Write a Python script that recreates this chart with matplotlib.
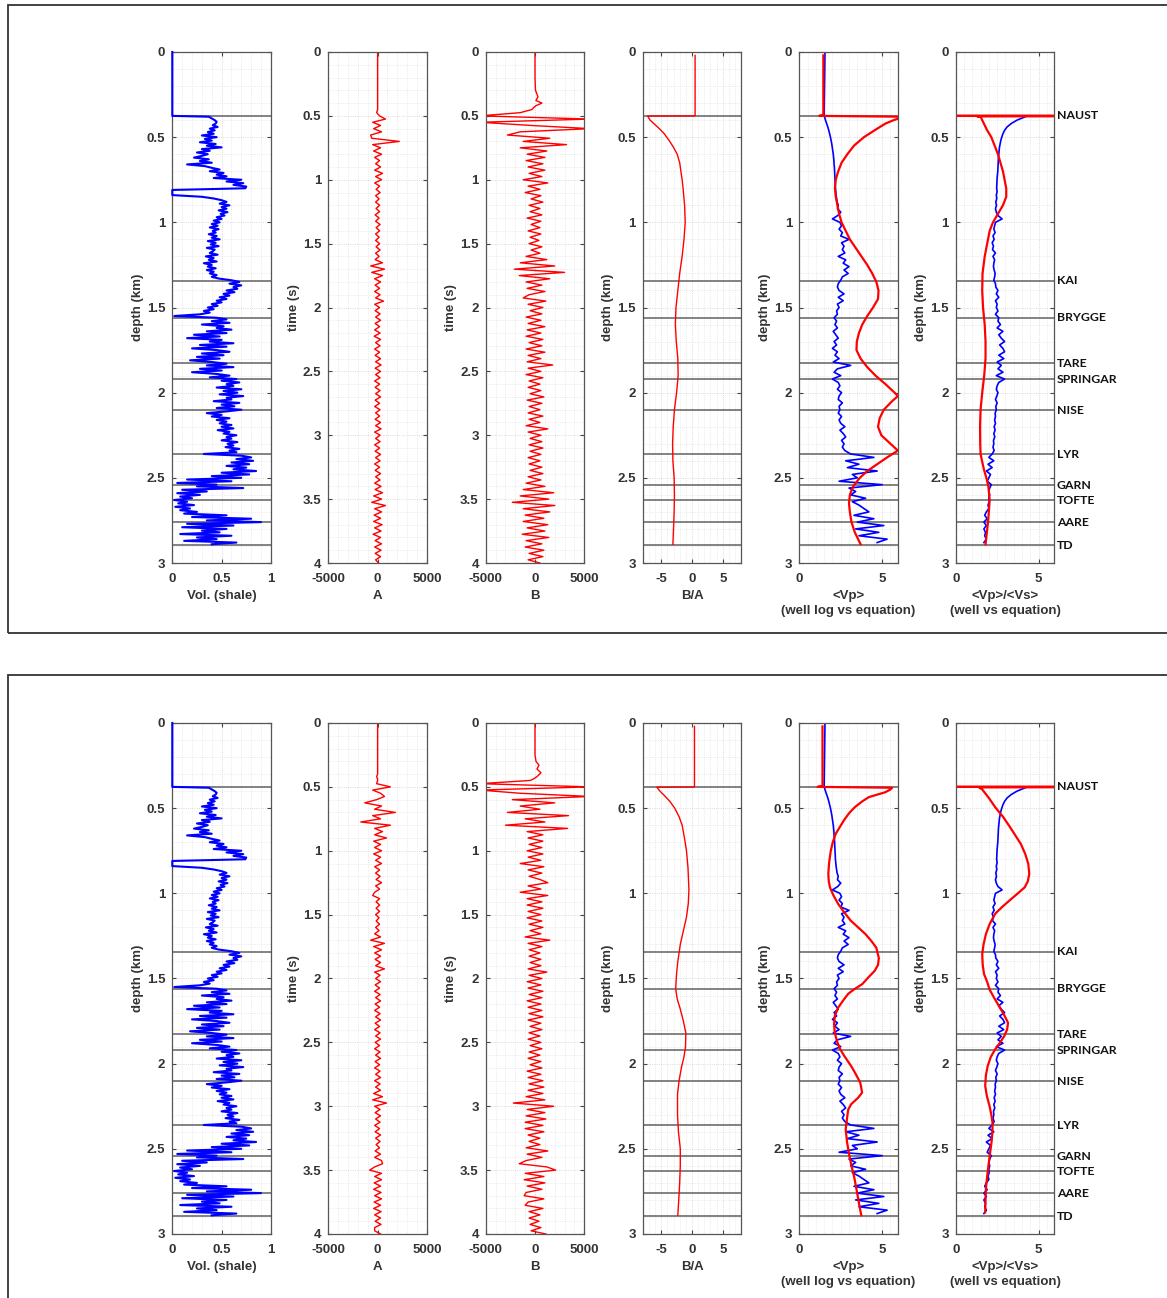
import matplotlib.pyplot as plt
import numpy as np
from matplotlib.patches import Rectangle
from matplotlib.ticker import MultipleLocator, FuncFormatter

plt.rcParams['font.family'] = ['Liberation Sans', 'DejaVu Sans']
plt.rcParams['axes.unicode_minus'] = False

# formation tops (km)
formations = ["NAUST", "KAI", "BRYGGE", "TARE", "SPRINGAR", "NISE",
              "LYR", "GARN", "TOFTE", "AARE", "TD"]
formation_depth = [0.375, 1.342, 1.559, 1.828, 1.922, 2.103,
                   2.361, 2.543, 2.631, 2.76, 2.895]

# ---- well logs (same in both rows) ----
# shale volume, one sample every 10 m from 0.38 km down to 2.89 km
vsh_depth = np.round(np.arange(0.38, 2.895, 0.01), 2)
vsh = [0.37, 0.40, 0.43, 0.45, 0.44, 0.41, 0.46, 0.38, 0.43, 0.36,
       0.42, 0.30, 0.45, 0.33, 0.40, 0.28, 0.44, 0.35, 0.50, 0.30,
       0.38, 0.25, 0.36, 0.30, 0.22, 0.37, 0.28, 0.40, 0.15, 0.33,
       0.40, 0.48, 0.38, 0.52, 0.45, 0.55, 0.42, 0.70, 0.55, 0.72,
       0.62, 0.75, 0.74, 0.00, 0.00, 0.00, 0.00, 0.30, 0.42, 0.50,
       0.55, 0.48, 0.58, 0.50, 0.55, 0.47, 0.56, 0.49, 0.53, 0.45,
       0.50, 0.42, 0.48, 0.40, 0.46, 0.38, 0.47, 0.41, 0.44, 0.37,
       0.45, 0.40, 0.48, 0.36, 0.44, 0.39, 0.47, 0.35, 0.43, 0.41,
       0.38, 0.46, 0.34, 0.42, 0.37, 0.45, 0.32, 0.40, 0.36, 0.44,
       0.35, 0.42, 0.38, 0.45, 0.40, 0.47, 0.60, 0.68, 0.58, 0.70,
       0.62, 0.66, 0.55, 0.63, 0.52, 0.58, 0.48, 0.55, 0.45, 0.50,
       0.40, 0.46, 0.36, 0.42, 0.32, 0.38, 0.28, 0.02, 0.45, 0.55,
       0.40, 0.58, 0.30, 0.52, 0.45, 0.60, 0.35, 0.55, 0.22, 0.48,
       0.15, 0.50, 0.38, 0.62, 0.28, 0.55, 0.20, 0.45, 0.58, 0.30,
       0.52, 0.25, 0.48, 0.18, 0.40, 0.55, 0.35, 0.62, 0.28, 0.50,
       0.20, 0.45, 0.58, 0.38, 0.65, 0.50, 0.68, 0.55, 0.62, 0.45,
       0.70, 0.52, 0.66, 0.48, 0.72, 0.55, 0.60, 0.42, 0.68, 0.50,
       0.63, 0.45, 0.70, 0.55, 0.35, 0.50, 0.40, 0.58, 0.45, 0.55,
       0.48, 0.60, 0.50, 0.62, 0.46, 0.58, 0.52, 0.65, 0.55, 0.60,
       0.50, 0.66, 0.56, 0.62, 0.54, 0.68, 0.58, 0.65, 0.32, 0.70,
       0.80, 0.65, 0.82, 0.60, 0.78, 0.55, 0.75, 0.62, 0.85, 0.50,
       0.78, 0.40, 0.70, 0.15, 0.60, 0.05, 0.45, 0.25, 0.72, 0.10,
       0.35, 0.05, 0.28, 0.08, 0.20, 0.02, 0.15, 0.06, 0.22, 0.03,
       0.18, 0.08, 0.25, 0.12, 0.55, 0.20, 0.80, 0.35, 0.90, 0.15,
       0.62, 0.10, 0.55, 0.30, 0.48, 0.08, 0.60, 0.25, 0.45, 0.12,
       0.65, 0.40]

# Vp and Vp/Vs from the well log, one sample every 20 m
log_depth = np.round(np.arange(0.38, 2.885, 0.02), 2)
vp_log = [1.52, 1.58, 1.65, 1.72, 1.78, 1.83, 1.88, 1.92, 1.96, 1.99,
          2.02, 2.05, 2.07, 2.09, 2.10, 2.12, 2.13, 2.14, 2.15, 2.16,
          2.17, 2.18, 2.20, 2.22, 2.25, 2.28, 2.35, 2.30, 2.50, 2.32,
          2.00, 2.45, 2.55, 2.40, 2.60, 2.50, 3.00, 2.55, 2.70, 2.60,
          2.75, 2.35, 2.80, 2.65, 3.00, 2.70, 2.95, 2.60, 2.50, 2.35,
          2.30, 2.40, 2.70, 2.35, 2.65, 2.30, 2.40, 2.25, 2.30, 2.10,
          2.25, 2.15, 2.30, 2.05, 2.20, 2.35, 2.10, 2.25, 2.00, 2.30,
          2.15, 2.40, 2.05, 3.10, 2.30, 2.10, 2.50, 2.00, 2.35, 2.45,
          2.30, 2.55, 2.40, 2.35, 2.60, 2.40, 2.45, 2.35, 2.55, 2.40,
          2.50, 2.75, 2.45, 2.65, 2.80, 2.55, 2.70, 2.60, 2.75, 3.10,
          4.50, 2.80, 3.60, 2.90, 4.70, 3.20, 3.50, 2.40, 5.00, 3.00,
          3.40, 3.10, 4.00, 3.20, 3.60, 3.90, 4.20, 3.30, 4.50, 3.50,
          5.10, 3.40, 4.80, 3.60, 5.30, 4.70]
vpvs_log = [4.20, 3.70, 3.35, 3.10, 2.95, 2.85, 2.78, 2.72, 2.68, 2.64,
            2.62, 2.60, 2.58, 2.57, 2.56, 2.55, 2.54, 2.52, 2.50, 2.49,
            2.48, 2.47, 2.50, 2.45, 2.48, 2.42, 2.46, 2.40, 2.45, 2.55,
            2.80, 2.40, 2.35, 2.30, 2.38, 2.25, 2.32, 2.20, 2.28, 2.22,
            2.40, 2.25, 2.35, 2.30, 2.28, 2.32, 2.38, 2.35, 2.30, 2.40,
            2.42, 2.55, 2.45, 2.60, 2.40, 2.50, 2.45, 2.55, 2.40, 2.60,
            2.55, 2.70, 2.50, 2.85, 2.60, 2.75, 2.95, 2.65, 2.85, 2.95,
            2.60, 2.90, 2.50, 2.75, 2.55, 2.85, 2.45, 2.95, 2.60, 2.50,
            2.45, 2.55, 2.48, 2.40, 2.50, 2.42, 2.45, 2.38, 2.40, 2.35,
            2.40, 2.32, 2.38, 2.30, 2.36, 2.28, 2.30, 2.25, 2.32, 2.20,
            2.00, 2.30, 1.95, 2.20, 1.85, 2.10, 2.00, 1.90, 2.15, 2.05,
            2.00, 2.05, 2.00, 2.02, 1.95, 2.00, 1.85, 1.75, 1.90, 1.70,
            1.85, 1.70, 1.80, 1.75, 1.85, 1.70]

# ---- seismic traces, one sample every 25 ms from 0.45 s ----
trace_time = np.round(np.arange(0.45, 4.001, 0.025), 3)

a_head_t = [0.0, 0.44]
a_head_top = [0, 0]
a_top = [0, -100, 200, 800, -500, 300, -400, 400,
         -700, -600, 2200, -500, 300, -400, 400, -300,
         200, -200, 300, -300, 500, -200, 400, -300,
         200, -150, 250, -200, 150, -200, 200, -150,
         200, -250, 150, -200, 250, -150, 200, -200,
         150, -200, 200, -150, 250, -200, 150, -250,
         500, -700, 700, -600, 500, -300, 300, -250,
         200, -300, 250, -200, 600, -300, 200, -250,
         250, -200, 300, -250, 200, -300, 250, -350,
         300, -200, 250, -300, 200, -250, 300, -200,
         350, -250, 300, -200, 250, -300, 200, -250,
         250, -200, 300, -250, 200, -300, 250, -200,
         200, -250, 300, -200, 350, -300, 250, -200,
         250, -300, 200, -250, 300, -200, 250, -300,
         200, -250, 300, -200, 250, -300, 350, -250,
         500, -400, 400, -600, 800, -300, 400, -350,
         300, -400, 450, -300, 350, -450, 300, -250,
         400, -300, 350, -250, 300, -200, 100]

b_head_t = [0.0, 0.2, 0.3, 0.35, 0.38, 0.4, 0.42, 0.44]
b_head_top = [0, 0, 50, 300, 100, 700, 100, -200]
b_top = [-300, -1500, -5600, 5600, -5600, -400, 5600, -1500,
         -2800, 1500, -1200, 3200, -1500, 1200, -800, 1000,
         -900, 800, -700, 1000, -600, 700, -1200, 1300,
         -700, 500, -1000, 600, -400, 800, -600, 500,
         -500, 700, -800, 600, -400, 500, -700, 600,
         -500, 400, -600, 700, -400, 500, -900, 1200,
         -1500, 2000, -2100, 3000, -1600, 1500, -900, 700,
         -800, 1000, -600, -1200, 1100, -700, 800, -500,
         700, -900, 600, -700, 1000, -800, 600, -900,
         800, -600, 700, -900, 1000, -700, 600, -800,
         1800, -700, 600, -900, 800, -600, 500, -700,
         600, -500, 900, -800, 700, -600, 500, -700,
         800, -600, 500, -900, 1300, -700, 600, -500,
         700, -600, 800, -500, 600, -700, 500, -600,
         700, -500, 800, -700, 600, -900, 1000, -1200,
         1900, -1500, 1400, -2300, 2000, -1200, 1500, -1000,
         900, -1200, 1300, -800, 1000, -1300, 1400, -900,
         700, -1000, 900, -600, 800, -700, 500]

a_head_t_bot = [0.0, 0.4, 0.42, 0.44]
a_head_bot = [0, 0, -100, 0]
a_bot = [0, -100, 1300, -500, 300, 700, -100, -1300,
         400, -300, 1800, -500, 300, -1700, 1300, -300,
         500, -300, 900, -400, 300, -300, 400, -400,
         300, -200, 400, -300, 200, -200, 250, -150,
         400, -200, 200, -300, -500, 200, -150, 200,
         -150, 200, -200, 150, -150, 200, -200, 150,
         -300, 300, -700, 700, -400, 400, -300, 300,
         -250, 300, -200, 700, -300, 250, -200, 300,
         -250, 200, -300, 250, -200, 300, -250, 200,
         -300, 250, -200, 300, -250, 200, -300, 250,
         -200, 300, -250, 200, -300, 250, -200, 300,
         -250, 200, -300, 250, -200, 300, -300, 250,
         -200, 300, -400, 500, -500, 900, -300, 250,
         -250, 300, -200, 250, -300, 200, -250, 300,
         -200, 250, -150, 200, -250, 300, -300, 400,
         500, -300, -800, 400, -300, 400, -350, 300,
         -400, 350, -300, 400, -350, 300, -400, 350,
         -300, 300, -250, 350, -300, -300, 300]

b_head_t_bot = [0.0, 0.25, 0.3, 0.33, 0.36, 0.39, 0.42, 0.44]
b_head_bot = [0, 0, 100, 400, 200, 600, 200, -200]
b_bot = [-500, -5600, 5600, -5600, -1500, 5600, -2300, 2000,
         -1500, 500, -2800, 3400, -1000, 1000, -3000, 3300,
         -800, 800, -700, 800, -600, 700, -800, 800,
         -700, 600, -1500, 900, -700, 700, -600, 500,
         1300, -700, 600, -1500, 1300, -800, 700, -800,
         800, -700, 600, -800, 700, -600, 800, -500,
         600, -1000, 1500, -700, 700, -600, 500, -600,
         600, -500, 600, -700, 1200, -600, 700, -800,
         600, -700, 800, -600, 700, -800, 600, -700,
         700, -600, 800, -700, 600, -500, 700, -600,
         500, -700, 600, -500, 700, -600, 500, -700,
         600, -500, 700, -800, 600, -700, 800, -600,
         900, -700, 800, -900, 1000, -2200, 1900, -800,
         1000, -900, 1100, -1000, 800, -1000, 900, -700,
         500, -600, 500, -900, 1300, -800, 700, -900,
         -1600, 1200, 2100, -1000, 900, -1100, 1000, -800,
         700, -900, -1100, 900, -700, -1000, 800, -600,
         500, -600, 400, -500, 600, -400, 1100]

# ---- B/A ratio (depth, value) ----
ba_top_d = [0.02, 0.375, 0.376, 0.40, 0.42, 0.45, 0.48, 0.52, 0.56, 0.60, 0.65,
            0.70, 0.75, 0.80, 0.90, 1.00, 1.10, 1.20, 1.30, 1.40, 1.50, 1.60,
            1.70, 1.80, 1.90, 2.00, 2.10, 2.20, 2.30, 2.40, 2.50, 2.60, 2.70,
            2.80, 2.89]
ba_top = [0.5, 0.5, -7.2, -6.8, -6.2, -5.3, -4.5, -3.7, -3.0, -2.4, -2.0,
          -1.8, -1.6, -1.45, -1.2, -1.1, -1.3, -1.6, -2.0, -2.3, -2.6, -2.7,
          -2.55, -2.3, -2.25, -2.5, -2.85, -3.05, -3.15, -3.1, -2.9, -2.85, -2.9,
          -3.0, -3.1]
ba_bot_d = [0.02, 0.376, 0.377, 0.40, 0.425, 0.46, 0.50, 0.55, 0.60, 0.68, 0.75,
            0.85, 0.98, 1.06, 1.14, 1.22, 1.30, 1.40, 1.47, 1.56, 1.62, 1.68,
            1.75, 1.82, 1.90, 1.96, 2.02, 2.10, 2.18, 2.30, 2.40, 2.50, 2.60,
            2.70, 2.80, 2.89]
ba_bot = [0.4, 0.4, -5.7, -5.2, -4.5, -3.6, -2.8, -2.1, -1.6, -1.2, -0.9,
          -0.65, -0.5, -0.6, -0.9, -1.4, -1.9, -2.3, -2.5, -2.65, -2.4, -1.9,
          -1.4, -1.0, -1.05, -1.3, -1.7, -2.1, -2.35, -2.35, -2.2, -1.9, -1.9,
          -2.0, -2.15, -2.3]

# ---- <Vp> from equation ----
vp_top_d = [0.02, 0.37, 0.375, 0.38, 0.39, 0.40, 0.42, 0.45, 0.50, 0.55, 0.60,
            0.65, 0.70, 0.75, 0.80, 0.85, 0.90, 0.95, 1.00, 1.05, 1.10, 1.15,
            1.20, 1.25, 1.30, 1.35, 1.40, 1.45, 1.50, 1.55, 1.60, 1.65, 1.70,
            1.75, 1.80, 1.85, 1.90, 1.95, 2.00, 2.02, 2.05, 2.10, 2.15, 2.20,
            2.25, 2.30, 2.34, 2.38, 2.42, 2.46, 2.50, 2.55, 2.60, 2.65, 2.70,
            2.76, 2.82, 2.89]
vp_top = [1.45, 1.45, 1.2, 6.3, 6.0, 5.7, 5.2, 4.7, 3.9, 3.3, 2.9,
          2.55, 2.35, 2.2, 2.15, 2.2, 2.3, 2.4, 2.55, 2.8, 3.05, 3.4,
          3.75, 4.1, 4.4, 4.65, 4.78, 4.75, 4.45, 4.1, 3.8, 3.6, 3.47,
          3.45, 3.7, 4.1, 4.6, 5.2, 5.75, 5.95, 5.6, 5.1, 4.85, 4.75,
          4.95, 5.5, 5.95, 5.3, 4.7, 4.1, 3.65, 3.25, 3.05, 3.0, 3.05,
          3.15, 3.35, 3.7]
vp_bot_d = [0.02, 0.37, 0.375, 0.38, 0.39, 0.406, 0.435, 0.46, 0.494, 0.53, 0.57,
            0.61, 0.65, 0.70, 0.75, 0.82, 0.886, 0.93, 0.965, 1.01, 1.063, 1.11,
            1.16, 1.20, 1.24, 1.28, 1.32, 1.38, 1.42, 1.455, 1.49, 1.533, 1.564,
            1.59, 1.623, 1.67, 1.72, 1.77, 1.818, 1.87, 1.916, 1.96, 2.014, 2.06,
            2.112, 2.17, 2.20, 2.238, 2.27, 2.306, 2.384, 2.46, 2.54, 2.60, 2.66,
            2.72, 2.775, 2.83, 2.89]
vp_bot = [1.4, 1.4, 1.1, 5.6, 5.5, 5.2, 4.2, 3.8, 3.35, 3.0, 2.7,
          2.45, 2.2, 2.02, 1.9, 1.8, 1.75, 1.78, 1.85, 2.05, 2.35, 2.7,
          3.1, 3.55, 4.0, 4.35, 4.65, 4.8, 4.75, 4.55, 4.2, 3.8, 3.3,
          2.95, 2.69, 2.35, 2.14, 2.1, 2.14, 2.28, 2.47, 2.75, 3.13, 3.4,
          3.68, 3.79, 3.55, 3.13, 2.95, 2.9, 2.8, 2.88, 3.02, 3.15, 3.3,
          3.42, 3.52, 3.62, 3.74]

# ---- <Vp>/<Vs> from equation ----
vpvs_top_d = [0.374, 0.375, 0.376, 0.378, 0.38, 0.42, 0.46, 0.50, 0.55, 0.60,
              0.65, 0.70, 0.75, 0.80, 0.85, 0.90, 0.95, 1.00, 1.05, 1.10, 1.20,
              1.30, 1.40, 1.50, 1.60, 1.70, 1.80, 1.90, 2.00, 2.10, 2.20, 2.30,
              2.36, 2.45, 2.50, 2.55, 2.63, 2.70, 2.76, 2.83, 2.89]
vpvs_top = [9.0, 0.0, 9.0, 1.3, 1.5, 1.7, 1.9, 2.15, 2.35, 2.55,
            2.7, 2.85, 2.95, 3.05, 3.05, 2.85, 2.55, 2.25, 2.05, 1.95, 1.75,
            1.62, 1.6, 1.65, 1.75, 1.8, 1.8, 1.72, 1.6, 1.5, 1.47, 1.48,
            1.5, 1.7, 1.85, 1.97, 2.05, 2.0, 1.95, 1.87, 1.8]
vpvs_bot_d = [0.374, 0.375, 0.376, 0.378, 0.39, 0.44, 0.494, 0.55, 0.61, 0.66,
              0.71, 0.77, 0.827, 0.886, 0.93, 0.965, 1.00, 1.04, 1.08, 1.12,
              1.18, 1.24, 1.30, 1.357, 1.42, 1.474, 1.52, 1.564, 1.61, 1.66,
              1.71, 1.76, 1.80, 1.838, 1.88, 1.916, 1.96, 2.014, 2.07, 2.131,
              2.19, 2.248, 2.30, 2.346, 2.40, 2.463, 2.52, 2.58, 2.66, 2.737,
              2.80, 2.873]
vpvs_bot = [9.0, 0.0, 9.0, 1.4, 1.6, 2.0, 2.38, 2.85, 3.27, 3.6,
            3.93, 4.2, 4.38, 4.44, 4.35, 4.16, 3.75, 3.27, 2.8, 2.38,
            2.05, 1.82, 1.68, 1.6, 1.63, 1.71, 1.9, 2.04, 2.3, 2.6,
            2.9, 3.16, 3.1, 2.93, 2.65, 2.38, 2.12, 1.93, 1.82, 1.78,
            1.88, 2.04, 2.15, 2.22, 2.22, 2.16, 2.08, 2.0, 1.9, 1.82,
            1.8, 1.78]

BLUE = '#0000ff'
RED = '#ff0000'
TXT = '#333333'

panel_left = [172.3, 328.3, 485.7, 642.7, 799.3, 955.7]
panel_w = 98.6
W, H = 1167, 1298


def style_axis(ax, xlim, xticks, xminor, ymax, xlabel, ylabel):
    ax.set_xlim(*xlim)
    ax.set_ylim(ymax, 0)
    ax.set_xticks(xticks)
    ax.set_yticks(np.arange(0, ymax + 0.01, 0.5))
    ax.xaxis.set_minor_locator(MultipleLocator(xminor))
    ax.yaxis.set_minor_locator(MultipleLocator(0.1))
    fmt = FuncFormatter(lambda v, p: f"{v:g}")
    ax.xaxis.set_major_formatter(fmt)
    ax.yaxis.set_major_formatter(fmt)
    ax.set_axisbelow(True)
    ax.grid(which='major', color='#cfcfcf', lw=0.6, ls=':')
    ax.grid(which='minor', color='#dcdcdc', lw=0.5, ls=':')
    ax.tick_params(which='major', direction='in', length=3, width=0.8,
                   top=True, right=True, color='#444444',
                   labelsize=9.5, labelcolor=TXT)
    ax.tick_params(axis='x', which='major', pad=7)
    ax.tick_params(axis='y', which='major', pad=5)
    ax.tick_params(which='minor', length=0)
    for lbl in ax.get_xticklabels() + ax.get_yticklabels():
        lbl.set_fontweight('bold')
    for sp in ax.spines.values():
        sp.set_color('#555555')
        sp.set_linewidth(0.9)
    ax.set_xlabel(xlabel, fontsize=9.5, fontweight='bold', color=TXT, labelpad=4,
                  linespacing=1.35)
    ax.set_ylabel(ylabel, fontsize=9.5, fontweight='bold', color=TXT, labelpad=2)


def formation_lines(ax):
    for d in formation_depth:
        ax.axhline(d, color='#606060', lw=1.1, zorder=1)


def draw_row(fig, top_px, a_t, a_v, b_t, b_v, ba_d, ba_v, vp_d, vp_v, vr_d, vr_v):
    bottom = 1 - (top_px + 511) / H
    height = 511 / H
    axs = [fig.add_axes([l / W, bottom, panel_w / W, height]) for l in panel_left]

    ax = axs[0]
    ax.plot([0, 0] + vsh, [0.0, 0.375] + list(vsh_depth), color=BLUE, lw=1.5,
            zorder=3, clip_on=False)
    formation_lines(ax)
    style_axis(ax, (0, 1), [0, 0.5, 1], 0.1, 3, 'Vol. (shale)', 'depth (km)')

    ax = axs[1]
    ax.plot(a_v, a_t, color=RED, lw=1.0)
    style_axis(ax, (-5000, 5000), [-5000, 0, 5000], 1000, 4, 'A', 'time (s)')

    ax = axs[2]
    ax.plot(b_v, b_t, color=RED, lw=1.0)
    style_axis(ax, (-5000, 5000), [-5000, 0, 5000], 1000, 4, 'B', 'time (s)')

    ax = axs[3]
    ax.plot(ba_v, ba_d, color=RED, lw=1.0)
    formation_lines(ax)
    style_axis(ax, (-8, 8), [-5, 0, 5], 1, 3, 'B/A', 'depth (km)')

    ax = axs[4]
    ax.plot([1.55, 1.5] + vp_log, [0.0, 0.375] + list(log_depth), color=BLUE, lw=1.2)
    ax.plot(vp_v, vp_d, color=RED, lw=1.6)
    formation_lines(ax)
    style_axis(ax, (0, 5.95), [0, 5], 0.5, 3, '<Vp>\n(well log vs equation)', 'depth (km)')

    ax = axs[5]
    ax.plot(vpvs_log, log_depth, color=BLUE, lw=1.2)
    ax.plot(vr_v, vr_d, color=RED, lw=1.6)
    formation_lines(ax)
    style_axis(ax, (0, 5.95), [0, 5], 0.5, 3, '<Vp>/<Vs>\n(well vs equation)', 'depth (km)')
    for name, d in zip(formations, formation_depth):
        ax.text(1.025, d, name, transform=ax.get_yaxis_transform(),
                fontsize=8.8, fontweight='bold', family=['Lato', 'DejaVu Sans'],
                color='#111111', va='center', ha='left')


fig = plt.figure(figsize=(W / 100, H / 100), dpi=100)

# frames around the two figure rows
fig.add_artist(Rectangle((8 / W, 1 - 633 / H), 1.2, 628 / H, fill=False,
                         edgecolor='#333333', lw=1.3, transform=fig.transFigure))
fig.add_artist(Rectangle((8 / W, -0.2), 1.2, 0.2 + 1 - 675 / H, fill=False,
                         edgecolor='#333333', lw=1.3, transform=fig.transFigure))

draw_row(fig, 52,
         a_head_t + list(trace_time), a_head_top + a_top,
         b_head_t + list(trace_time), b_head_top + b_top,
         ba_top_d, ba_top, vp_top_d, vp_top, vpvs_top_d, vpvs_top)
draw_row(fig, 723,
         a_head_t_bot + list(trace_time), a_head_bot + a_bot,
         b_head_t_bot + list(trace_time), b_head_bot + b_bot,
         ba_bot_d, ba_bot, vp_bot_d, vp_bot, vpvs_bot_d, vpvs_bot)

fig.savefig('out.png', dpi=100)
